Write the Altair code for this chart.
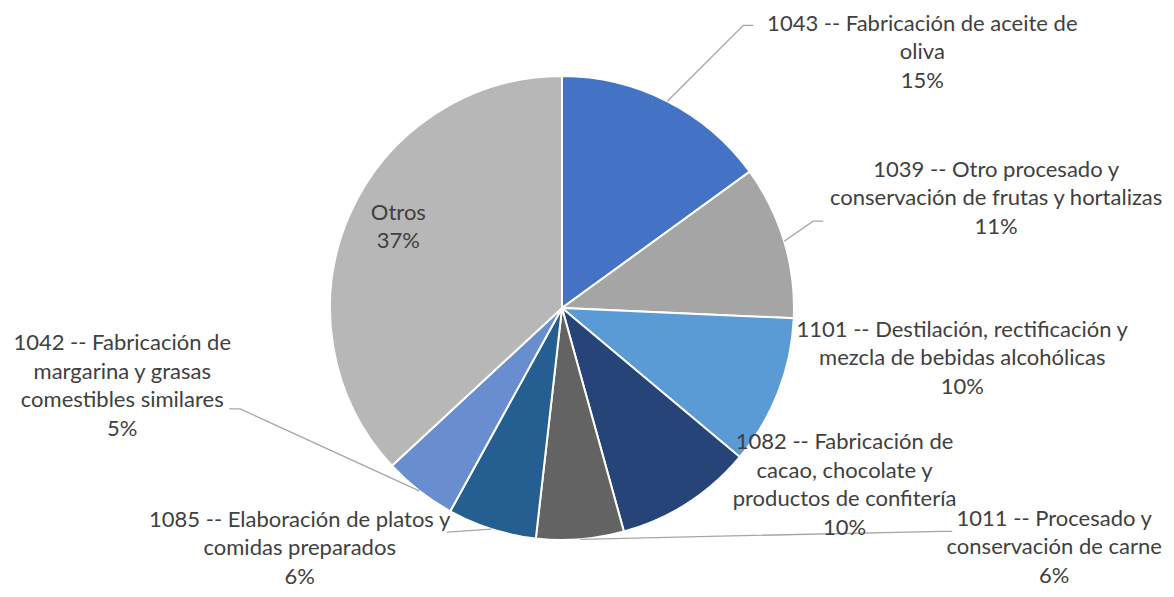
import altair as alt
import pandas as pd
import numpy as np

# ---- data ----
categories = [
    "1043 -- Fabricación de aceite de\noliva",
    "1039 -- Otro procesado y\nconservación de frutas y hortalizas",
    "1101 -- Destilación, rectificación y\nmezcla de bebidas alcohólicas",
    "1082 -- Fabricación de\ncacao, chocolate y\nproductos de confitería",
    "1011 -- Procesado y\nconservación de carne",
    "1085 -- Elaboración de platos y\ncomidas preparados",
    "1042 -- Fabricación de\nmargarina y grasas\ncomestibles similares",
    "Otros",
]
shares = [15.0, 10.7, 10.4, 9.6, 6.1, 6.2, 5.1, 36.9]
colors = ["#4472C4", "#A5A5A5", "#5B9BD5", "#264478", "#636363", "#255E91", "#698ED0", "#B7B7B7"]

# ---- layout (pixels, chart coordinates) ----
W, H = 1158, 581
CX, CY, R = 554, 300, 232
LH = 28.5
# label block centre offset from the slice's outer edge point at its mid-angle
label_off = [(255, -49), (212, -43), (184, -34), (157, -18), (474, 8), (-192, 19), (-297, -105), (49, 12)]
# leader line: elbow and end offsets from the edge point (None = no leader)
leader_off = [
    [(76, -76), (86, -76)],
    [(29, -20), (39, -20)],
    None,
    None,
    [(362, -8), (372, -8)],
    [(-45, 3)],
    [(-179, -82), (-190, -82)],
    None,
]

n = len(categories)
pct = [f"{int(v + 0.5)}%" for v in shares]
tot = sum(shares)
cum = np.cumsum([0] + shares)
mid = [(cum[i] + shares[i] / 2) / tot * 2 * np.pi for i in range(n)]
edge = [(CX + R * np.sin(a), CY - R * np.cos(a)) for a in mid]

pie_df = pd.DataFrame({"cat": categories, "share": shares, "order": list(range(n))})

lab_rows = []
for i in range(n):
    ex, ey = edge[i]
    dx, dy = label_off[i]
    txt = categories[i] + "\n" + pct[i]
    nl = txt.count("\n") + 1
    lab_rows.append({"x": ex + dx, "y": ey + dy - (nl - 1) * LH / 2, "text": txt})
lab_df = pd.DataFrame(lab_rows)

lead_rows = []
for i in range(n):
    if leader_off[i] is None:
        continue
    ex, ey = edge[i]
    lead_rows.append({"id": i, "step": 0, "x": ex, "y": ey})
    for k, (dx, dy) in enumerate(leader_off[i]):
        lead_rows.append({"id": i, "step": k + 1, "x": ex + dx, "y": ey + dy})
lead_df = pd.DataFrame(lead_rows)

pie = alt.Chart(pie_df).mark_arc(outerRadius=R, stroke="white", strokeWidth=2).encode(
    theta=alt.Theta("share:Q", stack=True),
    order=alt.Order("order:Q"),
    color=alt.Color("cat:N", scale=alt.Scale(domain=categories, range=colors), legend=None),
    x=alt.value(CX),
    y=alt.value(CY),
)

leaders = alt.Chart(lead_df).mark_line(color="#A6A6A6", strokeWidth=1.3).encode(
    x=alt.X("x:Q", scale=None),
    y=alt.Y("y:Q", scale=None),
    detail="id:N",
    order="step:Q",
)

labels = alt.Chart(lab_df).mark_text(
    font="Lato", fontSize=22, color="#404040", lineBreak="\n", lineHeight=LH,
    align="center", baseline="middle",
).encode(
    x=alt.X("x:Q", scale=None),
    y=alt.Y("y:Q", scale=None),
    text="text:N",
)

chart = alt.layer(pie, leaders, labels).properties(
    width=W, height=H, padding=0,
    autosize=alt.AutoSizeParams(type="fit", contains="padding"),
).configure_view(stroke=None)

chart.save("out.html", embed_options={"renderer": "svg", "actions": False})
